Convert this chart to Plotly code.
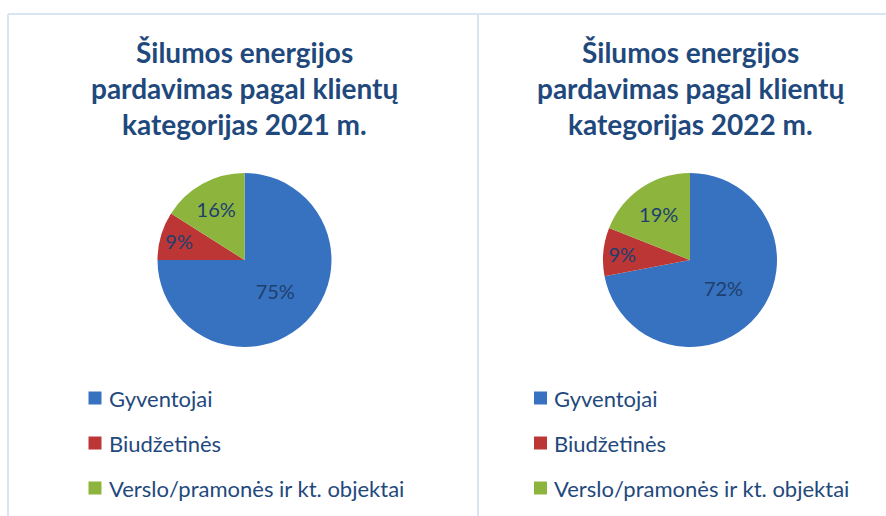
import plotly.graph_objects as go

# data
categories = ["Gyventojai", "Biudžetinės", "Verslo/pramonės ir kt. objektai"]
share_2021 = [75, 9, 16]
share_2022 = [72, 9, 19]
years = ["2021", "2022"]
colors = ["#3672C0", "#BC3636", "#8DB53D"]

W, H = 886, 516
navy = "#1F497D"
font = "Lato"

fig = go.Figure()

# pie centres in pixels (x) and radius
centers = [244.5, 690]
cy, r = 260, 87

for share, cx, year in zip([share_2021, share_2022], centers, years):
    fig.add_trace(go.Pie(
        labels=categories,
        values=share,
        sort=False,
        direction="clockwise",
        rotation=0,
        marker=dict(colors=colors, line=dict(width=0)),
        textinfo="percent",
        texttemplate="%{percent:.0%}",
        textposition="inside",
        insidetextorientation="horizontal",
        textfont=dict(family=font, size=20, color="#203F6E"),
        showlegend=False,
        hoverinfo="label+percent",
        domain=dict(x=[(cx - r) / W, (cx + r) / W],
                    y=[1 - (cy + r) / H, 1 - (cy - r) / H]),
    ))

    # titles, one annotation per line to keep the line spacing
    lines = ["Šilumos energijos", "pardavimas pagal klientų", "kategorijas " + year + " m."]
    for i, line in enumerate(lines):
        fig.add_annotation(
            x=cx / W, y=1 - (52 + 36 * i) / H, xref="paper", yref="paper",
            text="<b>" + line + "</b>", showarrow=False,
            xanchor="center", yanchor="middle",
            font=dict(family=font, size=28, color=navy),
        )

    # legend: square + label
    lx = cx - 156
    for i, (lab, col) in enumerate(zip(categories, colors)):
        ly = 398 + 45 * i
        fig.add_shape(type="rect", xref="paper", yref="paper",
                      x0=lx / W, x1=(lx + 13) / W,
                      y0=1 - (ly + 6.5) / H, y1=1 - (ly - 6.5) / H,
                      fillcolor=col, line=dict(width=0))
        fig.add_annotation(
            x=(lx + 18) / W, y=1 - ly / H, xref="paper", yref="paper",
            text=lab, showarrow=False, xanchor="left", yanchor="middle",
            font=dict(family=font, size=22, color=navy),
        )

# panel borders
border = "#DAE5F3"
fig.add_shape(type="line", xref="paper", yref="paper",
              x0=8 / W, x1=1, y0=1 - 14 / H, y1=1 - 14 / H,
              line=dict(color=border, width=2))
for bx in [8, 478]:
    fig.add_shape(type="line", xref="paper", yref="paper",
                  x0=bx / W, x1=bx / W, y0=0, y1=1 - 14 / H,
                  line=dict(color=border, width=2))

fig.update_layout(
    width=W, height=H,
    margin=dict(l=0, r=0, t=0, b=0),
    paper_bgcolor="white",
    plot_bgcolor="white",
    uniformtext=dict(minsize=20, mode="show"),
)

# drop the default page margin so the figure sits at the window corner
fig.write_html("out.html", config={"displayModeBar": False},
               post_script="document.body.style.margin='0';")
